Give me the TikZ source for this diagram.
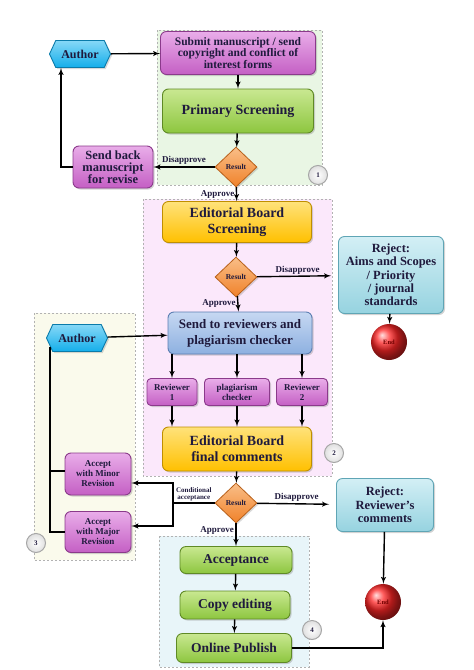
\documentclass[tikz,border=0pt]{standalone}
\usepackage{fontspec}
\setmainfont{Liberation Serif}
\usetikzlibrary{shapes.geometric, shapes.symbols, shadows, arrows}

\definecolor{ink}{HTML}{1F1A3D}
\definecolor{purp}{HTML}{C45FC4}
\definecolor{purpL}{HTML}{E9ADE9}
\definecolor{purpD}{HTML}{8B3A8B}
\definecolor{grn}{HTML}{8DC63F}
\definecolor{grnL}{HTML}{C9E891}
\definecolor{grnD}{HTML}{5F8A25}
\definecolor{yel}{HTML}{FFC000}
\definecolor{yelL}{HTML}{FFE27A}
\definecolor{yelD}{HTML}{C08F00}
\definecolor{blu}{HTML}{8DB0E0}
\definecolor{bluL}{HTML}{C6D8F2}
\definecolor{bluD}{HTML}{5C7FB3}
\definecolor{tea}{HTML}{96D3E0}
\definecolor{teaL}{HTML}{D3EFF5}
\definecolor{teaD}{HTML}{5FA5B5}
\definecolor{cya}{HTML}{14AEEA}
\definecolor{cyaL}{HTML}{86D8F7}
\definecolor{cyaD}{HTML}{0A7BAA}
\definecolor{ora}{HTML}{F0822A}
\definecolor{oraL}{HTML}{F9BE88}
\definecolor{oraD}{HTML}{B8601A}
\definecolor{gA}{HTML}{E9F6E4}
\definecolor{gB}{HTML}{FBE8FB}
\definecolor{gC}{HTML}{FAFAEC}
\definecolor{gD}{HTML}{E8F5F9}

\begin{document}
\begin{tikzpicture}[x=1pt, y=-1pt]

\tikzset{box/.style = {draw, rounded corners=6pt, line width=0.9pt, align=center, inner sep=2pt, text=ink,
  drop shadow={opacity=0.35, shadow xshift=1.5pt, shadow yshift=-1.5pt}}}
\tikzset{purpbox/.style = {box, draw=purpD, top color=purpL, bottom color=purp}}
\tikzset{grnbox/.style = {box, draw=grnD, top color=grnL, bottom color=grn}}
\tikzset{yelbox/.style = {box, draw=yelD, top color=yelL, bottom color=yel}}
\tikzset{blubox/.style = {box, draw=bluD, top color=bluL, bottom color=blu}}
\tikzset{teabox/.style = {box, draw=teaD, top color=teaL, bottom color=tea}}
\tikzset{hexa/.style = {signal, signal to=west and east, signal pointer angle=130, draw=cyaD, line width=0.9pt,
  top color=cyaL, bottom color=cya, minimum width=61pt, minimum height=27pt, inner sep=1pt, text=ink,
  font=\fontsize{12}{14}\selectfont\bfseries, drop shadow={opacity=0.3, shadow xshift=1.5pt, shadow yshift=-1.5pt}}}
\tikzset{dec/.style = {diamond, draw=oraD, line width=0.8pt, top color=oraL, bottom color=ora,
  minimum width=42pt, minimum height=40pt, inner sep=0pt, text=ink,
  font=\fontsize{7.5}{8}\selectfont\bfseries, drop shadow={opacity=0.3, shadow xshift=1.5pt, shadow yshift=-1.5pt}}}
\tikzset{term/.style = {circle, ball color=red!85!white, minimum size=36pt, inner sep=0pt, text=red!45!black,
  font=\fontsize{6.5}{7}\selectfont\bfseries}}
\tikzset{num/.style = {circle, draw=gray!70, line width=1pt, inner color=white, outer color=gray!25,
  minimum size=19pt, inner sep=0pt, text=ink, font=\fontsize{7}{8}\selectfont\bfseries}}
\tikzset{area/.style = {draw=gray!60, dash pattern=on 2pt off 2pt, line width=0.6pt}}
\tikzset{flow/.style = {->, >=latex', line width=1.4pt}}
\tikzset{link/.style = {line width=1.4pt}}
\tikzset{lab/.style = {text=ink, inner sep=1.5pt, font=\fontsize{9}{9}\selectfont\bfseries}}
\tikzset{fbig/.style = {font=\fontsize{14}{16}\selectfont\bfseries}}
\tikzset{fmid/.style = {font=\fontsize{12.5}{13.3}\selectfont\bfseries}}
\tikzset{fsub/.style = {font=\fontsize{11.5}{11.5}\selectfont\bfseries}}
\tikzset{fsmall/.style = {font=\fontsize{9}{10}\selectfont\bfseries}}

\useasboundingbox (0,0) rectangle (474,670);

% stage areas
\draw[area, fill=gA] (157,30) rectangle (322,185);
\draw[area, fill=gB] (143,199) rectangle (332,476);
\draw[area, fill=gC] (34,313) rectangle (135,560);
\draw[area, fill=gD] (159,536) rectangle (309,667);

% stage 1
\node[hexa] (auth1) at (80,54) {Author};
\node[purpbox, fsub, minimum width=155pt, minimum height=43pt] (submit) at (238,53) {Submit manuscript / send\\copyright and conflict of\\interest forms};
\node[grnbox, fbig, minimum width=151pt, minimum height=44pt] (prim) at (238,111) {Primary Screening};
\node[dec] (res1) at (236,167) {Result};
\node[purpbox, minimum width=80pt, minimum height=42pt, font=\fontsize{12.5}{12}\selectfont\bfseries] (back) at (113,167) {Send back\\manuscript\\for revise};
\node[num] (n1) at (318,175) {1};

% stage 2
\node[yelbox, fbig, minimum width=149pt, minimum height=41pt] (ebs) at (237,222) {Editorial Board\\Screening};
\node[dec] (res2) at (236,277) {Result};
\node[teabox, fmid, minimum width=105pt, minimum height=77pt] (rej1) at (391,275) {Reject:\\Aims and Scopes\\/ Priority\\/ journal\\standards};
\node[term] (end1) at (389,342) {End};
\node[blubox, minimum width=144pt, minimum height=42pt, font=\fontsize{13}{16}\selectfont\bfseries] (send) at (240,333) {Send to reviewers and\\plagiarism checker};
\node[purpbox, fsmall, minimum width=50pt, minimum height=27pt, rounded corners=4pt] (rev1) at (172,392) {Reviewer\\1};
\node[purpbox, fsmall, minimum width=65pt, minimum height=27pt, rounded corners=4pt] (plag) at (237,392) {plagiarism\\checker};
\node[purpbox, fsmall, minimum width=51pt, minimum height=27pt, rounded corners=4pt] (rev2) at (302,392) {Reviewer\\2};
\node[yelbox, fbig, minimum width=149pt, minimum height=44pt] (fin) at (237,449) {Editorial Board\\final comments};
\node[num] (n2) at (334,453) {2};

% stage 3
\node[hexa] (auth2) at (77,338) {Author};
\node[purpbox, fsmall, minimum width=66pt, minimum height=42pt] (minor) at (98,474) {Accept\\with Minor\\Revision};
\node[purpbox, fsmall, minimum width=66pt, minimum height=41pt] (major) at (98,532) {Accept\\with Major\\Revision};
\node[num] (n3) at (36,543) {3};
\node[dec] (res3) at (236,503) {Result};
\coordinate (cj) at (173,503);
\node[teabox, fmid, minimum width=97pt, minimum height=53pt] (rej2) at (385,505) {Reject:\\Reviewer's\\comments};
\node[term] (end2) at (383,602) {End};

% stage 4
\node[grnbox, font=\fontsize{13.5}{14}\selectfont\bfseries, minimum width=112pt, minimum height=27pt] (acc) at (236,560) {Acceptance};
\node[grnbox, font=\fontsize{13.5}{14}\selectfont\bfseries, minimum width=110pt, minimum height=28pt] (copy) at (235,605) {Copy editing};
\node[grnbox, font=\fontsize{13.5}{14}\selectfont\bfseries, minimum width=115pt, minimum height=29pt] (pub) at (234,648) {Online Publish};
\node[num] (n4) at (312,630) {4};

% edges
\draw[flow] (auth1) -- (submit);
\draw[flow] (submit) -- (prim);
\draw[flow] (prim) -- (res1);
\draw[flow] (res1) -- node[lab, above] {Disapprove} (back);
\draw[flow] (back) -| ([xshift=-19pt]auth1.south);
\draw[flow] (res1) -- node[lab, left] {Approve} (ebs);
\draw[flow] (ebs) -- (res2);
\draw[flow, shorten >=7pt] (res2) -- node[lab, above] {Disapprove} (rej1);
\draw[flow] (rej1) -- (end1);
\draw[flow] (res2) -- node[lab, left] {Approve} (send);
\draw[flow] (auth2) -- (send);
\draw[flow] (send.south -| rev1) -- (rev1);
\draw[flow] (send.south -| plag) -- (plag);
\draw[flow] (send.south -| rev2) -- (rev2);
\draw[flow] (rev1) -- (rev1 |- fin.north);
\draw[flow] (plag) -- (plag |- fin.north);
\draw[flow] (rev2) -- (rev2 |- fin.north);
\draw[flow] (fin) -- (res3);
\draw[link] (res3) -- node[lab, above, align=center, font=\fontsize{7}{7}\selectfont\bfseries] {Conditional\\acceptance} (cj);
\draw[flow] (cj) |- ([yshift=-9pt]minor.east);
\draw[flow] (cj) |- ([yshift=6pt]major.east);
\draw[link] ([yshift=3pt]minor.west) -| ([xshift=-27pt, yshift=5pt]auth2.south);
\draw[link] (major.west) -| ([xshift=-27pt, yshift=5pt]auth2.south);
\draw[flow, shorten >=7pt] (res3) -- node[lab, above] {Disapprove} (rej2);
\draw[flow] (rej2) -- (end2);
\draw[flow] (res3) -- node[lab, left, pos=0.3] {Approve} (acc);
\draw[flow] (acc) -- (copy);
\draw[flow] (copy) -- (pub);
\draw[flow] (pub) -| (end2);

\end{tikzpicture}
\end{document}
